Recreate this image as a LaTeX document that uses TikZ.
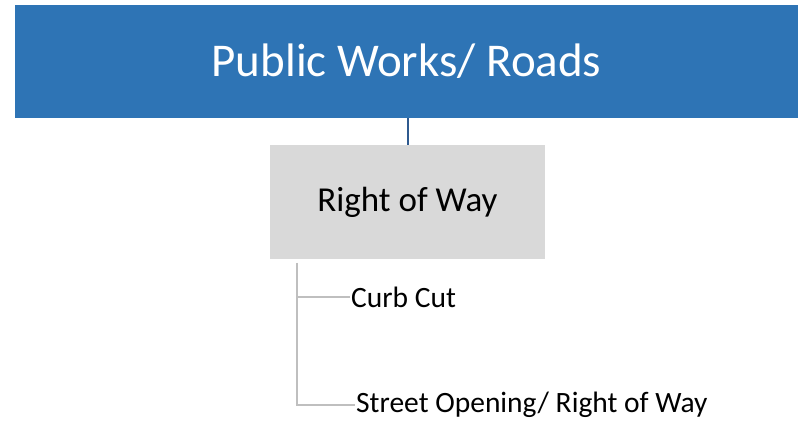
\documentclass[tikz,border=0pt]{standalone}
\usepackage{fontspec}
\setmainfont{Carlito}
\usepackage{xcolor}
\definecolor{worksblue}{HTML}{2E74B5}
\definecolor{linkblue}{HTML}{2F5A8F}
\definecolor{boxgray}{HTML}{D9D9D9}
\definecolor{treegray}{HTML}{BFBFBF}
\tikzset{
  headbox/.style={rectangle, fill=worksblue, text=white, inner sep=0pt,
    minimum width=783pt, minimum height=113pt, font=\fontsize{47}{56}\selectfont},
  subbox/.style={rectangle, fill=boxgray, text=black, inner sep=0pt,
    minimum width=275pt, minimum height=114pt, font=\fontsize{35}{42}\selectfont},
  leaf/.style={anchor=west, inner sep=1pt, font=\fontsize{29.5}{35}\selectfont},
  tree/.style={draw=treegray, line width=1.5pt}
}
\begin{document}
\begin{tikzpicture}[x=1pt, y=-1pt]
		\useasboundingbox (0,0) rectangle (798,427) ;
\par
\node[headbox] (works) at (406.5,61.5) {Public Works/ Roads} ;
		\node[subbox] (row) at (407.5,202) {Right of Way} ;
\par
\node[leaf] (curb) at (350,297) {Curb Cut} ;
		\node[leaf] (street) at (355,405) {Street Opening/ Right of Way} ;
		\coordinate (spine) at (297,263) ;
\par
\draw[draw=linkblue, line width=2pt] (row.north |- works.south) -- (row.north) ;
		\draw[tree] (spine) |- (curb.west) ;
		\draw[tree] (spine) |- (street.west) ;
	\end{tikzpicture}
\end{document}
